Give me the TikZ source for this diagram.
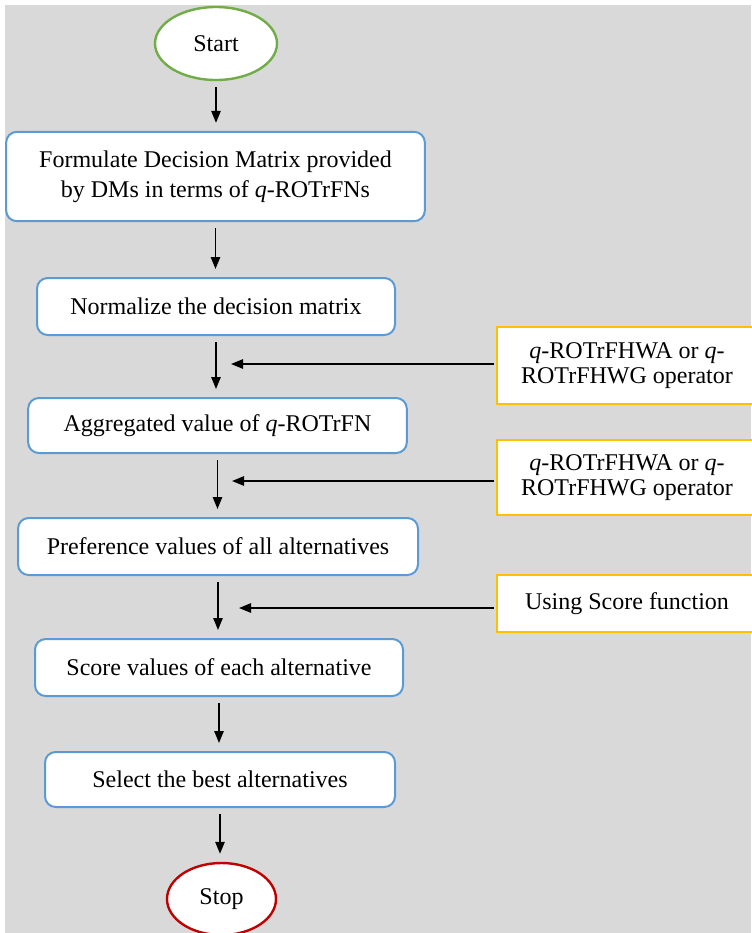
\documentclass[tikz,border=0pt]{standalone}
\usepackage{fontspec}
\setmainfont{Liberation Serif}
\usetikzlibrary{shapes.geometric,arrows.meta,calc}

\definecolor{panel}{HTML}{D9D9D9}
\definecolor{stepblue}{HTML}{5B9BD5}
\definecolor{opgold}{HTML}{FFC000}
\definecolor{startgreen}{HTML}{70AD47}
\definecolor{stopred}{HTML}{C00000}

\tikzset{
  stepbox/.style={draw=stepblue, line width=1.5pt, fill=white, rounded corners=8pt,
    align=center, font=\fontsize{18}{22.5}\selectfont, inner sep=0pt},
  opbox/.style={draw=opgold, line width=2pt, fill=white, align=center,
    font=\fontsize{18}{18}\selectfont, inner sep=0pt, minimum width=195pt},
  terminal/.style={ellipse, line width=1.8pt, fill=white, inner sep=0pt,
    font=\fontsize{18}{20}\selectfont},
  flow/.style={line width=1.3pt, -{Triangle[length=9pt,width=7pt]},
    shorten <=4.5pt, shorten >=6pt},
  feed/.style={line width=1.3pt, -{Triangle[length=9pt,width=7pt]}, shorten <=1.5pt}
}

\begin{document}
\begin{tikzpicture}[x=0.75pt,y=-0.75pt]
\useasboundingbox (0,0) rectangle (751,933);
\fill[panel] (5,5) rectangle (751,933);

% main sequence of steps
\node[terminal, draw=startgreen, minimum width=91.5pt, minimum height=54.75pt] (start) at (216,43.5) {Start};
\node[stepbox, minimum width=314pt, minimum height=67pt] (formulate) at (215.5,176.5)
  {Formulate Decision Matrix provided\\by DMs in terms of \textit{q}-ROTrFNs};
\node[stepbox, minimum width=268.5pt, minimum height=42.75pt] (normalize) at (216,306.5)
  {Normalize the decision matrix};
\node[stepbox, minimum width=284pt, minimum height=41.25pt] (aggregate) at (217.5,425.5)
  {Aggregated value of \textit{q}-ROTrFN};
\node[stepbox, minimum width=300pt, minimum height=42.75pt] (preference) at (218,546.5)
  {Preference values of all alternatives};
\node[stepbox, minimum width=276pt, minimum height=42.75pt] (score) at (219,667.5)
  {Score values of each alternative};
\node[stepbox, minimum width=262.5pt, minimum height=41.25pt] (select) at (220,779.5)
  {Select the best alternatives};
\node[terminal, draw=stopred, minimum width=81.75pt, minimum height=54pt] (stop) at (221.5,899) {Stop};

% operator boxes on the right
\node[opbox, minimum height=57.75pt] (op1) at (627,365.5)
  {\textit{q}-ROTrFHWA or \textit{q}-\\[1pt]ROTrFHWG operator};
\node[opbox, minimum height=56.25pt] (op2) at (627,477.5)
  {\textit{q}-ROTrFHWA or \textit{q}-\\[1pt]ROTrFHWG operator};
\node[opbox, minimum height=42.75pt] (op3) at (627,603.5)
  {\raisebox{4pt}{Using Score function}};

% vertical flow
\draw[flow] (start.south) -- (start.south |- formulate.north);
\draw[flow] (formulate.south) -- (formulate.south |- normalize.north);
\draw[flow] (normalize.south) -- (normalize.south |- aggregate.north);
\draw[flow] (aggregate.south) -- (aggregate.south |- preference.north);
\draw[flow] (preference.south) -- (preference.south |- score.north);
\draw[flow] (score.south) -- (score.south |- select.north);
\draw[flow] (select.south) -- (select.south |- stop.north);

% inputs feeding the flow
\coordinate (in1) at (231,364);
\coordinate (in2) at (232,481);
\coordinate (in3) at (239,608);
\draw[feed] (op1.west |- in1) -- (in1);
\draw[feed] (op2.west |- in2) -- (in2);
\draw[feed] (op3.west |- in3) -- (in3);
\end{tikzpicture}
\end{document}
